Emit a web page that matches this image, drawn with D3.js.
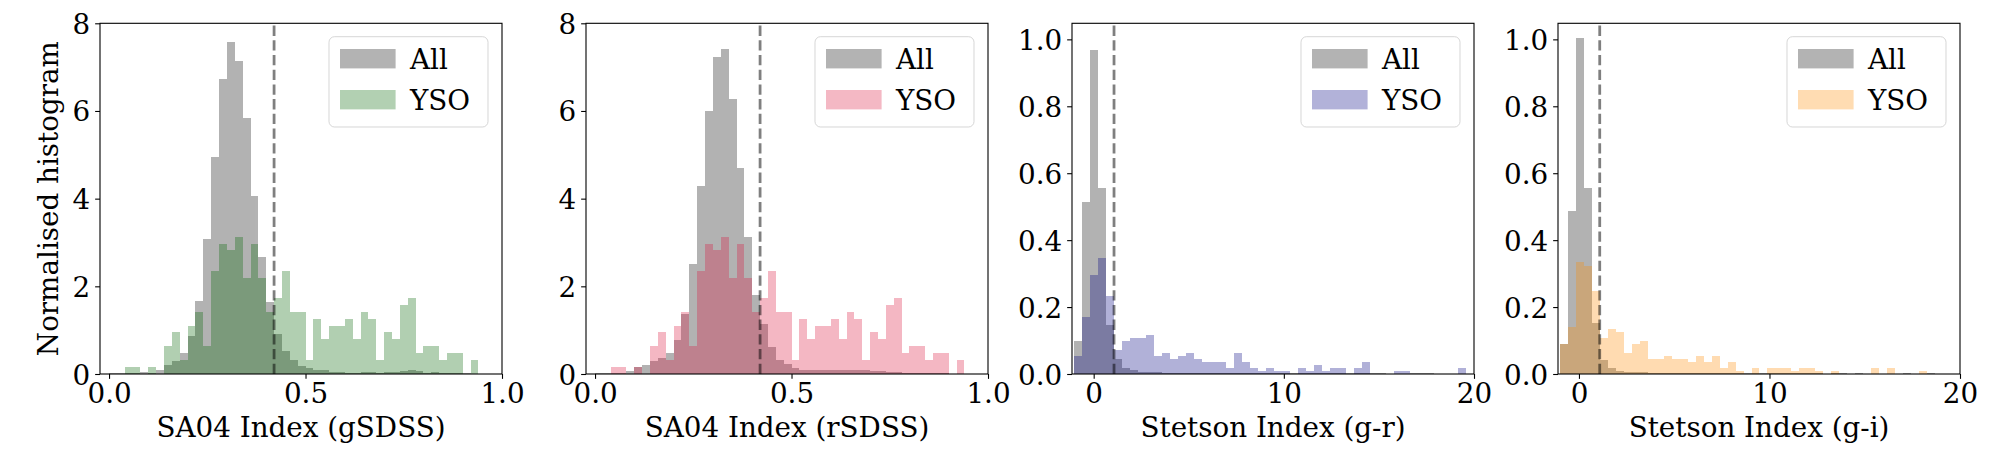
<!DOCTYPE html>
<html>
<head>
<meta charset="utf-8">
<script src="https://cdn.jsdelivr.net/npm/d3@7/dist/d3.min.js"></script>
<style>
  body { margin: 0; background: #fff; }
  svg { display: block; }
  text { font-family: "DejaVu Serif", serif; }
</style>
</head>
<body>
<div id="chart"></div>
<script>
// ---- data (normalised histogram heights per bin) ----
// SA04 index, g band: bins of 0.02 starting at 0
const gBinStart = 0;
const gBinWidth = 0.02;
const gAll = [0.02, 0.02, 0.02, 0.02, 0.045, 0.03, 0.09, 0.21, 0.3, 0.48,
  0.87, 1.67, 3.08, 4.96, 6.72, 7.57, 7.14, 5.85, 4.06, 2.66,
  1.64, 0.91, 0.52, 0.32, 0.18, 0.14, 0.09, 0.09, 0.05, 0.045,
  0.03, 0.03, 0.045, 0.045, 0.03, 0.045, 0.045, 0.07, 0.09, 0.07,
  0.03, 0.045, 0.03, 0.02, 0.02, 0.02, 0.01, 0.01, 0.01, 0.01];
const gYSO = [0, 0, 0.16, 0.16, 0, 0.16, 0, 0.64, 0.95, 0.32,
  1.1, 1.41, 0.64, 2.35, 2.96, 2.84, 3.13, 2.2, 2.96, 2.2,
  1.41, 1.74, 2.35, 1.41, 1.41, 0.32, 1.25, 0.79, 1.1, 1.1,
  1.25, 0.79, 1.41, 1.25, 0.32, 0.95, 0.79, 1.57, 1.74, 0.49,
  0.64, 0.64, 0.32, 0.49, 0.49, 0, 0.32, 0, 0, 0];

// SA04 index, r band
const rBinStart = 0;
const rBinWidth = 0.02;
const rAll = [0.02, 0.02, 0.03, 0.03, 0.07, 0.16, 0.2, 0.3, 0.37, 0.49,
  0.78, 1.38, 2.51, 4.29, 6.0, 7.22, 7.41, 6.27, 4.71, 3.13,
  1.8, 1.14, 0.61, 0.33, 0.22, 0.14, 0.09, 0.08, 0.08, 0.08,
  0.08, 0.08, 0.09, 0.09, 0.08, 0.07, 0.06, 0.05, 0.04, 0.03,
  0.03, 0.02, 0.02, 0.02, 0.02, 0.01, 0.01, 0.01, 0.01, 0.01];
const rYSO = [0, 0, 0.16, 0.16, 0, 0.16, 0, 0.64, 0.95, 0.32,
  1.1, 1.41, 0.64, 2.35, 2.96, 2.84, 3.13, 2.2, 2.96, 2.2,
  1.41, 1.74, 2.35, 1.41, 1.41, 0.32, 1.25, 0.79, 1.1, 1.1,
  1.25, 0.79, 1.41, 1.25, 0.32, 0.95, 0.79, 1.57, 1.74, 0.49,
  0.64, 0.64, 0.32, 0.49, 0.49, 0, 0.32, 0, 0, 0];

// Stetson index, g-r
const grBinStart = -1.053;
const grBinWidth = 0.421;
const grAll = [0.10, 0.515, 0.968, 0.556, 0.146, 0.045, 0.018, 0.012, 0.007, 0.007,
  0.006, 0.004, 0.004, 0.003, 0.003, 0.003, 0.003, 0.003, 0.002, 0.002,
  0.002, 0.002, 0.002, 0.002, 0.002, 0.002, 0.002, 0.002, 0.002, 0.002,
  0.002, 0.002, 0.002, 0.002, 0.002, 0.002, 0.002, 0.002, 0.002, 0.001,
  0.001, 0.001, 0.002, 0.002, 0.002, 0, 0, 0, 0.001];
const grYSO = [0.054, 0.17, 0.296, 0.348, 0.234, 0.072, 0.099, 0.108, 0.108, 0.117,
  0.054, 0.063, 0.045, 0.054, 0.063, 0.045, 0.036, 0.036, 0.036, 0.018,
  0.063, 0.036, 0.018, 0.009, 0.018, 0.009, 0.009, 0, 0.018, 0.009,
  0.027, 0.009, 0.018, 0.018, 0, 0.018, 0.036, 0, 0, 0,
  0.009, 0.009, 0, 0, 0, 0, 0, 0, 0.018];

// Stetson index, g-i
const giBinStart = -1.014;
const giBinWidth = 0.4196;
const giAll = [0.09, 0.487, 1.005, 0.557, 0.152, 0.042, 0.018, 0.009, 0.007, 0.006,
  0.006, 0.003, 0.003, 0.003, 0.003, 0.002, 0.002, 0.002, 0.002, 0.002,
  0.002, 0.002, 0.002, 0.002, 0.002, 0.002, 0.002, 0.002, 0.002, 0.002,
  0.002, 0.002, 0.002, 0.001, 0.002, 0.002, 0.001, 0.002, 0.001, 0.001,
  0.001, 0.001, 0.001, 0.002, 0.001, 0.001, 0.002];
const giYSO = [0.09, 0.139, 0.334, 0.324, 0.247, 0.107, 0.134, 0.125, 0.063, 0.09,
  0.098, 0.045, 0.045, 0.054, 0.045, 0.045, 0.036, 0.054, 0.036, 0.054,
  0.018, 0.036, 0.009, 0, 0.018, 0, 0.018, 0.018, 0.018, 0.009,
  0.018, 0.018, 0.009, 0, 0.009, 0, 0, 0, 0, 0.018,
  0, 0.018, 0, 0, 0, 0.009, 0];

// variability cuts (dashed lines)
const cuts = [0.42, 0.42, 1.07, 1.09];

const xLabels = ['SA04 Index (gSDSS)', 'SA04 Index (rSDSS)', 'Stetson Index (g-r)', 'Stetson Index (g-i)'];
const yLabel = 'Normalised histogram';
const legendLabels = ['All', 'YSO'];
const ysoColors = ['darkgreen', 'crimson', 'navy', 'darkorange'];

const saXTicks = [0, 0.5, 1.0];
const saYTicks = [0, 2, 4, 6, 8];
const stXTicks = [0, 10, 20];
const stYTicks = [0, 0.2, 0.4, 0.6, 0.8, 1.0];

// ---- panel setup ----
const panels = [
  { start: gBinStart, width: gBinWidth, all: gAll, yso: gYSO, xDomain: [-0.023, 1.0], yDomain: [0, 8],
    xTicks: saXTicks, yTicks: saYTicks, xFmt: d3.format('.1f'), yFmt: d3.format('d') },
  { start: rBinStart, width: rBinWidth, all: rAll, yso: rYSO, xDomain: [-0.023, 1.0], yDomain: [0, 8],
    xTicks: saXTicks, yTicks: saYTicks, xFmt: d3.format('.1f'), yFmt: d3.format('d') },
  { start: grBinStart, width: grBinWidth, all: grAll, yso: grYSO, xDomain: [-1.14, 20], yDomain: [0, 1.048],
    xTicks: stXTicks, yTicks: stYTicks, xFmt: d3.format('d'), yFmt: d3.format('.1f') },
  { start: giBinStart, width: giBinWidth, all: giAll, yso: giYSO, xDomain: [-1.1, 20], yDomain: [0, 1.048],
    xTicks: stXTicks, yTicks: stYTicks, xFmt: d3.format('d'), yFmt: d3.format('.1f') },
];

const W = 2000, H = 450;
const FS = 27.78;       // 20pt at 100 dpi
const TICK = 4.86;      // 3.5pt
const axTop = 23.3, axBottom = 374, panelW = 402, step = 486, firstLeft = 100;

const svg = d3.select('#chart').append('svg')
  .attr('width', W)
  .attr('height', H)
  .attr('viewBox', `0 0 ${W} ${H}`);

const toBins = (p, vals) => vals.map((v, k) => ({
  x0: p.start + k * p.width,
  x1: p.start + (k + 1) * p.width,
  v,
})).filter(d => d.v > 0);

panels.forEach((p, i) => {
  const left = firstLeft + i * step;
  const right = left + panelW;
  const x = d3.scaleLinear().domain(p.xDomain).range([left, right]);
  const y = d3.scaleLinear().domain(p.yDomain).range([axBottom, axTop]);
  const g = svg.append('g').attr('class', `panel-${i}`);

  const series = [
    { vals: p.all, color: 'gray', opacity: 0.6 },
    { vals: p.yso, color: ysoColors[i], opacity: 0.3 },
  ];

  series.forEach(s => {
    g.append('g')
      .attr('opacity', s.opacity)
      .attr('fill', s.color)
      .attr('shape-rendering', 'crispEdges')
      .selectAll('rect')
      .data(toBins(p, s.vals))
      .join('rect')
      .attr('x', d => x(d.x0))
      .attr('width', d => x(d.x1) - x(d.x0))
      .attr('y', d => y(d.v))
      .attr('height', d => y(0) - y(d.v));
  });

  // dashed cut line, drawn bottom-up so the dash phase starts at the axis
  g.append('line')
    .attr('x1', x(cuts[i])).attr('x2', x(cuts[i]))
    .attr('y1', axBottom).attr('y2', axTop)
    .attr('stroke', 'black')
    .attr('stroke-opacity', 0.5)
    .attr('stroke-width', 2.78)
    .attr('stroke-dasharray', '10.3,4.4');

  // axes
  const xAxis = d3.axisBottom(x)
    .tickValues(p.xTicks)
    .tickFormat(p.xFmt)
    .tickSizeInner(TICK)
    .tickSizeOuter(0)
    .tickPadding(TICK);
  const gx = g.append('g').attr('transform', `translate(0,${axBottom})`).call(xAxis);

  const yAxis = d3.axisLeft(y)
    .tickValues(p.yTicks)
    .tickFormat(p.yFmt)
    .tickSizeInner(TICK)
    .tickSizeOuter(0)
    .tickPadding(TICK);
  const gy = g.append('g').attr('transform', `translate(${left},0)`).call(yAxis);

  [gx, gy].forEach(a => {
    a.select('.domain').remove();
    a.selectAll('.tick line').attr('stroke', 'black').attr('stroke-width', 1.1);
    a.selectAll('.tick text')
      .attr('fill', 'black')
      .style('font-family', '"DejaVu Serif", serif')
      .style('font-size', `${FS}px`);
  });
  gy.selectAll('.tick text').attr('dy', '0.36em');

  // frame
  g.append('rect')
    .attr('x', left).attr('y', axTop)
    .attr('width', panelW).attr('height', axBottom - axTop)
    .attr('fill', 'none')
    .attr('stroke', 'black')
    .attr('stroke-width', 1.1);

  // x label
  g.append('text')
    .attr('x', (left + right) / 2)
    .attr('y', 436.7)
    .attr('text-anchor', 'middle')
    .style('font-size', `${FS}px`)
    .text(xLabels[i]);

  // legend
  const lgW = 159, lgH = 90.3;
  const lg = g.append('g').attr('transform', `translate(${right - 14 - lgW},${axTop + 13.4})`);
  lg.append('rect')
    .attr('width', lgW).attr('height', lgH)
    .attr('rx', 5.5).attr('ry', 5.5)
    .attr('fill', 'white').attr('fill-opacity', 0.8)
    .attr('stroke', '#cccccc').attr('stroke-opacity', 0.8)
    .attr('stroke-width', 1);
  series.forEach((s, j) => {
    const rowY = 12.3 + j * 41;
    lg.append('rect')
      .attr('x', 11).attr('y', rowY)
      .attr('width', 55.6).attr('height', 19.4)
      .attr('fill', s.color).attr('opacity', s.opacity);
    lg.append('text')
      .attr('x', 81)
      .attr('y', rowY + 19.7)
      .style('font-size', `${FS}px`)
      .text(legendLabels[j]);
  });
});

// shared y label on the first panel
svg.append('text')
  .attr('transform', `translate(58.3,${(axTop + axBottom) / 2}) rotate(-90)`)
  .attr('text-anchor', 'middle')
  .style('font-size', `${FS}px`)
  .text(yLabel);
</script>
</body>
</html>
